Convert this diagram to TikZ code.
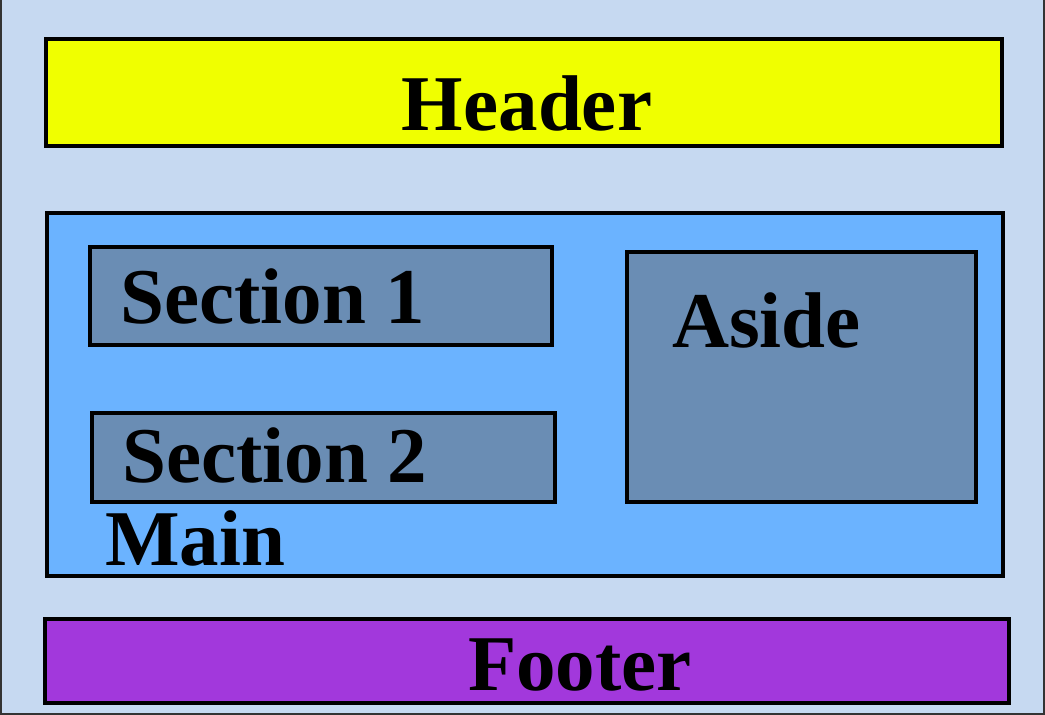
\documentclass[tikz,border=0pt]{standalone}
\usepackage{fontspec}
\setmainfont{Liberation Serif}
\usepackage{xcolor}
\usetikzlibrary{positioning}

\definecolor{pagebg}{RGB}{198,217,241}
\definecolor{headerfill}{RGB}{240,255,0}
\definecolor{mainfill}{RGB}{107,179,255}
\definecolor{sectionfill}{RGB}{106,141,180}
\definecolor{footerfill}{RGB}{162,56,220}

\tikzset{
    region/.style={draw=black,line width=4.5pt,inner sep=0pt,outer sep=0pt},
    regionlabel/.style={font=\bfseries\fontsize{79}{90}\selectfont,inner sep=0pt,anchor=base west}
}

\begin{document}
\begin{tikzpicture}[x=1pt,y=-1pt]
    % page
    \useasboundingbox (0,0) rectangle (1045,715);
    \fill[pagebg] (0,0) rectangle (1045,715);
    \draw[line width=2pt,black!80] (1,-10) -- (1,714) -- (1044,714) -- (1044,-10);

    % header
    \node[region,fill=headerfill,minimum width=956pt,minimum height=107pt,anchor=north west] (header) at (46,39) {};
    \node[regionlabel,anchor=base] (headertext) at (527,130) {Header};

    % main with sections and aside
    \node[region,fill=mainfill,minimum width=956pt,minimum height=363pt,anchor=north west] (main) at (47,213) {};
    \node[region,fill=sectionfill,minimum width=462pt,minimum height=98pt,anchor=north west] (sec1) at (90,247) {};
    \node[region,fill=sectionfill,minimum width=463pt,minimum height=89pt,anchor=north west] (sec2) at (92,413) {};
    \node[region,fill=sectionfill,minimum width=349pt,minimum height=250pt,anchor=north west] (aside) at (627,252) {};

    \node[regionlabel] (sec1text) at (120,323) {Section 1};
    \node[regionlabel] (sec2text) at (122,482) {Section 2};
    \node[regionlabel] (asidetext) at (672,347) {Aside};
    \node[regionlabel] (maintext) at (105,565) {Main};

    % footer
    \node[region,fill=footerfill,minimum width=964pt,minimum height=84pt,anchor=north west] (footer) at (45,619) {};
    \node[regionlabel] (footertext) at (468,690) {Footer};
\end{tikzpicture}
\end{document}
